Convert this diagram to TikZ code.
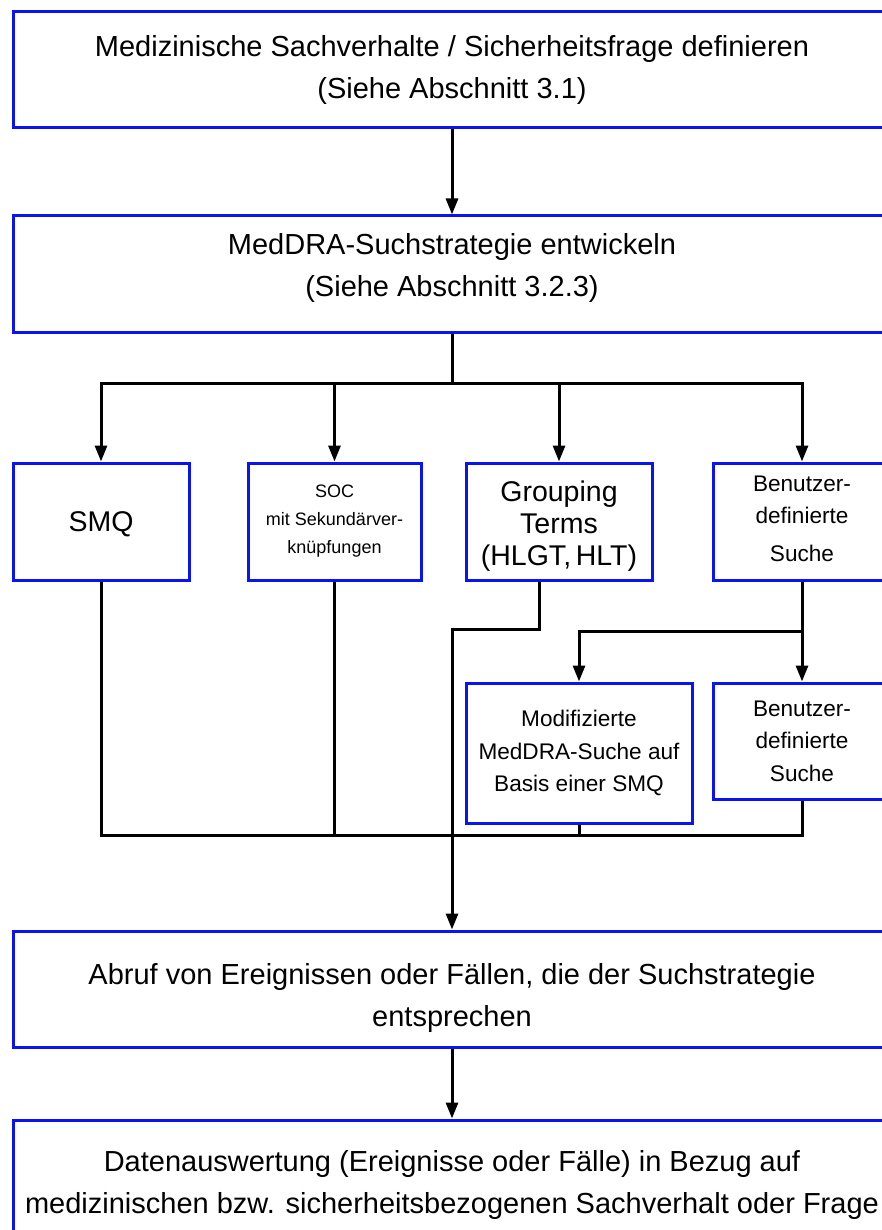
\documentclass[tikz,border=0pt]{standalone}
\usepackage{fontspec}
\setmainfont{Liberation Sans}
\usepackage{tikz}
\usetikzlibrary{positioning,arrows.meta}
\definecolor{boxblue}{HTML}{0A14F0}
\tikzstyle{signal}=[arrows={-Triangle[length=16pt,width=12pt]},draw=black,line width=3pt]
\tikzstyle{wire}=[draw=black,line width=3pt]
\tikzstyle{block}=[draw=boxblue,line width=3pt,inner sep=2pt,align=center,fill=white]
\tikzstyle{widebox}=[block,minimum width=878pt,minimum height=116pt,
    font=\fontsize{29}{42}\selectfont]
\tikzstyle{searchbox}=[block,minimum height=117pt]
\def\fontbig{\fontsize{28.5}{32}\selectfont}
\def\fontsmall{\fontsize{18}{28}\selectfont}
\def\fontmid{\fontsize{22.6}{32.5}\selectfont}

\begin{document}
\begin{tikzpicture}[x=1pt,y=-1pt]
    
    \useasboundingbox (0,0) rectangle (881,1230);
    
    % main steps
    \node[widebox] (define) at (452,70)
        {Medizinische Sachverhalte / Sicherheitsfrage definieren\\(Siehe Abschnitt 3.1)};
    \node[widebox, text depth=18pt] (strategy) at (452,274)
        {MedDRA-Suchstrategie entwickeln\\(Siehe Abschnitt 3.2.3)};
    
    % search options
    \node[searchbox, minimum width=176pt, font=\fontbig, text depth=0pt] (smq) at (101,521.5) {SMQ};
    \node[searchbox, minimum width=173pt, font=\fontsmall] (soc) at (334.5,521.5)
        {SOC\\mit Sekundärver-\\knüpfungen};
    \node[searchbox, minimum width=186pt, font=\fontbig, text depth=0pt] (hlgt) at (559,521.5)
        {\rule{0pt}{24pt}Grouping\\Terms\\(HLGT,\,HLT)};
    \node[searchbox, minimum width=178pt, font=\fontmid, text depth=6pt] (usersearch) at (802,521.5)
        {Benutzer-\\definierte\\[5pt]Suche};
    
    % user defined variants
    \node[block, minimum width=226pt, minimum height=140pt, font=\fontmid] (modsmq) at (579,753)
        {Modifizierte\\MedDRA-Suche auf\\Basis einer SMQ};
    \node[block, minimum width=178pt, minimum height=116pt, font=\fontmid] (usersearchb) at (802,741)
        {Benutzer-\\definierte\\Suche};
    
    % retrieval and analysis
    \node[widebox, text depth=0pt] (retrieve) at (452,989)
        {\rule{0pt}{33pt}Abruf von Ereignissen oder Fällen, die der Suchstrategie\\entsprechen};
    \node[widebox, minimum height=130pt] (analyse) at (452,1185)
        {Datenauswertung (Ereignisse oder Fälle) in Bezug auf\\medizinischen bzw. sicherheitsbezogenen Sachverhalt oder Frage};
    
    % junction points
    \coordinate (split) at (452,383);
    \coordinate (fork) at (802,631);
    \coordinate (collect) at (452,835);
    
    % arrows
    \draw[signal] (define) -- (strategy);
    \draw[wire] (strategy.south) -- (split);
    \draw[signal] (split) -| (smq.north);
    \draw[signal] (split) -| (soc.north);
    \draw[signal] (split) -| (hlgt.north);
    \draw[signal] (split) -| (usersearch.north);
    
    \draw[signal] (usersearch.south) -- (usersearchb.north);
    \draw[signal] (fork) -| (modsmq.north);
    
    \draw[wire] (smq.south) |- (collect);
    \draw[wire] (soc.south) |- (collect);
    \draw[wire] (modsmq.south) |- (collect);
    \draw[wire] (usersearchb.south) |- (collect);
    \draw[signal] ([xshift=-20pt]hlgt.south) -- ++(0,48) -| (retrieve.north);
    
    \draw[signal] (retrieve) -- (analyse);
    
\end{tikzpicture}
\end{document}
